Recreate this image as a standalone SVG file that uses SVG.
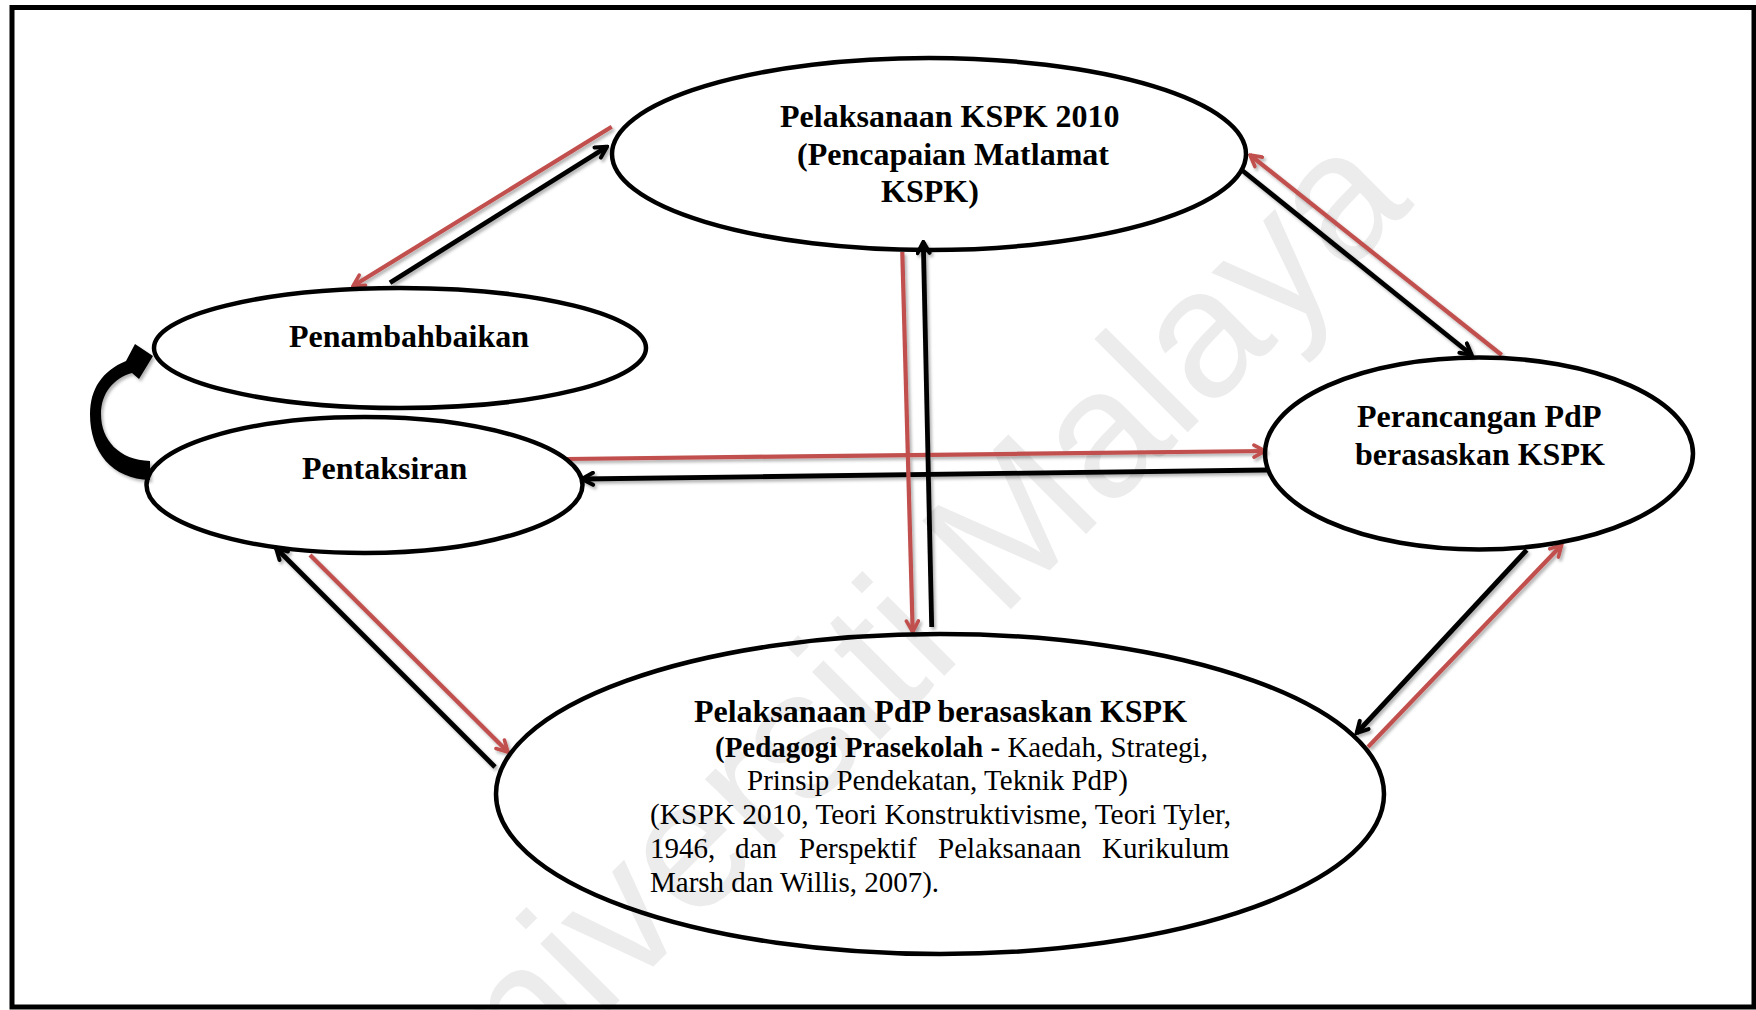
<svg xmlns="http://www.w3.org/2000/svg" width="1756" height="1010" viewBox="0 0 1756 1010">
<style>
.node{fill:none;stroke:#000;stroke-width:4.5}
.b{font-family:"Liberation Serif","Times New Roman",serif;font-weight:bold;font-size:32px;fill:#000}
.r{font-family:"Liberation Serif","Times New Roman",serif;font-size:29px;fill:#000}
.blk{stroke:#000;stroke-width:4.8;fill:none;marker-end:url(#ab)}
.red{stroke:#c0504d;stroke-width:4.2;fill:none;marker-end:url(#ar)}
.wm{font-family:"Liberation Sans",Arial,sans-serif;font-size:182px;fill:#ececec}
</style>
<defs>
<marker id="ab" viewBox="0 0 16 16" markerWidth="16" markerHeight="16" refX="14" refY="8" orient="auto" markerUnits="userSpaceOnUse">
<path d="M3,2 L14,8 L3,14" fill="none" stroke="#000" stroke-width="4" stroke-linecap="round" stroke-linejoin="miter"/>
</marker>
<marker id="ar" viewBox="0 0 16 16" markerWidth="16" markerHeight="16" refX="14" refY="8" orient="auto" markerUnits="userSpaceOnUse">
<path d="M3,2 L14,8 L3,14" fill="none" stroke="#c0504d" stroke-width="3.6" stroke-linecap="round" stroke-linejoin="miter"/>
</marker>
<filter id="sh" x="-10%" y="-10%" width="120%" height="120%">
<feDropShadow dx="2" dy="2.5" stdDeviation="1.5" flood-color="#000" flood-opacity="0.3"/>
</filter>
</defs>
<rect x="0" y="0" width="1756" height="1010" fill="#fff"/>
<text class="wm" x="1415" y="205" text-anchor="end" transform="rotate(-45 1415 205)">Universiti Malaya</text>
<rect x="12" y="7.5" width="1742" height="999.5" fill="none" stroke="#000" stroke-width="5"/>

<g id="connectors" filter="url(#sh)">
<line class="red" x1="611.7" y1="126.7" x2="353" y2="286"/>
<line class="blk" x1="390" y1="282.7" x2="607" y2="146.7"/>
<line class="blk" x1="1241.7" y1="170" x2="1471.7" y2="355"/>
<line class="red" x1="1501.7" y1="355" x2="1250" y2="155"/>
<line class="red" x1="567" y1="459" x2="1265" y2="451"/>
<line class="blk" x1="1267" y1="470" x2="582" y2="479"/>
<line class="red" x1="902.3" y1="252" x2="912.7" y2="632"/>
<line class="blk" x1="931.7" y1="627" x2="923.3" y2="242"/>
<line class="blk" x1="495" y1="767" x2="276" y2="548"/>
<line class="red" x1="310" y1="555" x2="508" y2="752"/>
<line class="blk" x1="1526.7" y1="550" x2="1356.7" y2="733"/>
<line class="red" x1="1368" y1="747" x2="1561.7" y2="545"/>
<path d="M150,480 C112,479 90,452 90,414 C90,389 102,371 126,361 L135,344 L153,356 L139,379 L132,373 C114,378 101,393 101,414 C101,440 119,460 150,461 Z" fill="#000"/>
</g>

<g id="node-pelaksanaan-kspk">
<ellipse class="node" cx="929" cy="154" rx="317" ry="96"/>
<text class="b" x="780" y="127">Pelaksanaan KSPK 2010</text>
<text class="b" x="797" y="165">(Pencapaian Matlamat</text>
<text class="b" x="881" y="202">KSPK)</text>
</g>

<g id="node-penambahbaikan">
<ellipse class="node" cx="400" cy="348" rx="246" ry="60"/>
<text class="b" x="289" y="347">Penambahbaikan</text>
</g>

<g id="node-pentaksiran">
<ellipse class="node" cx="364.5" cy="485" rx="218" ry="68"/>
<text class="b" x="302" y="479">Pentaksiran</text>
</g>

<g id="node-perancangan">
<ellipse class="node" cx="1479" cy="453.5" rx="214" ry="96"/>
<text class="b" x="1357" y="427">Perancangan PdP</text>
<text class="b" x="1355" y="465">berasaskan KSPK</text>
</g>

<g id="node-pelaksanaan-pdp">
<ellipse class="node" cx="940" cy="794" rx="444" ry="160"/>
<text class="b" x="694" y="722" textLength="493" lengthAdjust="spacingAndGlyphs">Pelaksanaan PdP berasaskan KSPK</text>
<text class="r" x="715" y="757"><tspan font-weight="bold">(Pedagogi Prasekolah - </tspan>Kaedah, Strategi,</text>
<text class="r" x="747" y="790">Prinsip Pendekatan, Teknik PdP)</text>
<text class="r" x="650" y="824" textLength="581" lengthAdjust="spacingAndGlyphs">(KSPK 2010, Teori Konstruktivisme, Teori Tyler,</text>
<text class="r" y="858"><tspan x="650">1946,</tspan><tspan x="735">dan</tspan><tspan x="799">Perspektif</tspan><tspan x="938">Pelaksanaan</tspan><tspan x="1102">Kurikulum</tspan></text>
<text class="r" x="650" y="892">Marsh dan Willis, 2007).</text>
</g>
</svg>
